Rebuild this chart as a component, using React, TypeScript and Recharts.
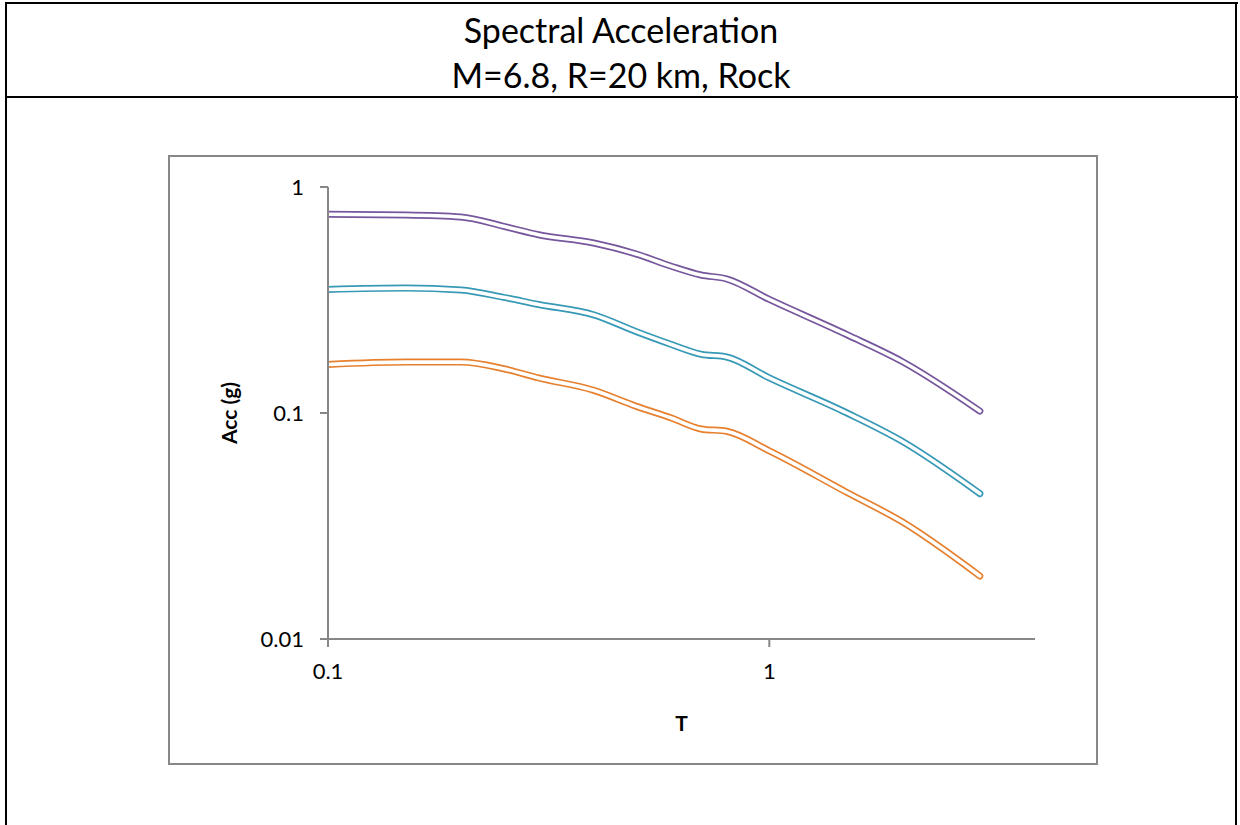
import { LineChart, Line, XAxis, YAxis, Label } from "recharts";

// periods (s) and spectral acceleration (g) for the three curves
const periods = [0.1, 0.15, 0.2, 0.25, 0.3, 0.4, 0.5, 0.6, 0.7, 0.8, 1, 1.5, 2, 3];
const upper = [0.757, 0.752, 0.737, 0.67, 0.615, 0.565, 0.505, 0.446, 0.408, 0.392, 0.318, 0.222, 0.169, 0.102];
const median = [0.352, 0.357, 0.35, 0.325, 0.302, 0.272, 0.229, 0.201, 0.182, 0.177, 0.143, 0.1, 0.075, 0.044];
const lower = [0.164, 0.168, 0.168, 0.157, 0.143, 0.126, 0.107, 0.095, 0.085, 0.083, 0.068, 0.0445, 0.033, 0.019];

const xTicks = [0.1, 1];
const yTicks = [0.01, 0.1, 1];

const rows = periods.map((T, i) => ({ T, upper: upper[i], median: median[i], lower: lower[i] }));

const series = [
  { key: "upper", color: "#76569c" },
  { key: "median", color: "#3799b6" },
  { key: "lower", color: "#e6802f" },
];

const font = "Lato, 'Open Sans', sans-serif";
const gray = "#878787";

function XTitle(props: any) {
  const vb = props.viewBox;
  return (
    <text x={vb.x + vb.width / 2} y={vb.y + 83} textAnchor="middle" dominantBaseline="central"
      fontFamily={font} fontSize={21} fontWeight="bold" fill="#000">T</text>
  );
}

function YTitle(props: any) {
  const vb = props.viewBox;
  const cx = vb.x + 60;
  const cy = vb.y + vb.height / 2;
  return (
    <text x={cx} y={cy} transform={`rotate(-90 ${cx} ${cy})`} textAnchor="middle" dominantBaseline="central"
      fontFamily={font} fontSize={21} fontWeight="bold" fill="#000">Acc (g)</text>
  );
}

export default function App() {
  const line = (style: React.CSSProperties) => ({ position: "absolute" as const, background: "#000", ...style });
  return (
    <div style={{ position: "absolute", left: 0, top: 0, width: 1240, height: 825, background: "#fff", overflow: "hidden", fontFamily: font }}>
      <div style={line({ left: 5, top: 2, width: 1233, height: 2 })} />
      <div style={line({ left: 5, top: 96, width: 1233, height: 2 })} />
      <div style={line({ left: 5, top: 2, width: 2, height: 830 })} />
      <div style={line({ left: 1235, top: 2, width: 2, height: 830 })} />
      <div style={{ position: "absolute", left: 6, width: 1230, top: 7, textAlign: "center", fontSize: 34, lineHeight: "45px", color: "#000" }}>
        <div>Spectral Acceleration</div>
        <div>M=6.8, R=20 km, Rock</div>
      </div>

      <div style={{ position: "absolute", left: 168, top: 155 }}>
        <LineChart width={930} height={610} data={rows} margin={{ top: 32, right: 63, bottom: 26, left: 0 }}>
          <XAxis dataKey="T" type="number" scale="log" domain={[0.1, 4]} ticks={xTicks} allowDataOverflow
            height={100} tickSize={8} tickMargin={16} stroke={gray} strokeWidth={2}
            tick={{ fill: "#000", fontSize: 22, fontFamily: font }}>
            <Label content={XTitle} />
          </XAxis>
          <YAxis type="number" scale="log" domain={[0.01, 1]} ticks={yTicks} allowDataOverflow
            width={160} tickSize={8} tickMargin={16} stroke={gray} strokeWidth={2}
            tick={{ fill: "#000", fontSize: 22, fontFamily: font }}>
            <Label content={YTitle} />
          </YAxis>
          {series.map((s) => [
            <Line key={s.key + "-o"} dataKey={s.key} type="monotone" stroke={s.color} strokeWidth={7}
              strokeLinecap="round" dot={false} activeDot={false} isAnimationActive={false} />,
            <Line key={s.key + "-i"} dataKey={s.key} type="monotone" stroke="#fff" strokeWidth={3.6}
              strokeLinecap="round" dot={false} activeDot={false} isAnimationActive={false} />,
          ])}
        </LineChart>
      </div>
      <div style={{ position: "absolute", left: 168, top: 155, width: 930, height: 610, border: `2px solid ${gray}`, boxSizing: "border-box", pointerEvents: "none" }} />
    </div>
  );
}
